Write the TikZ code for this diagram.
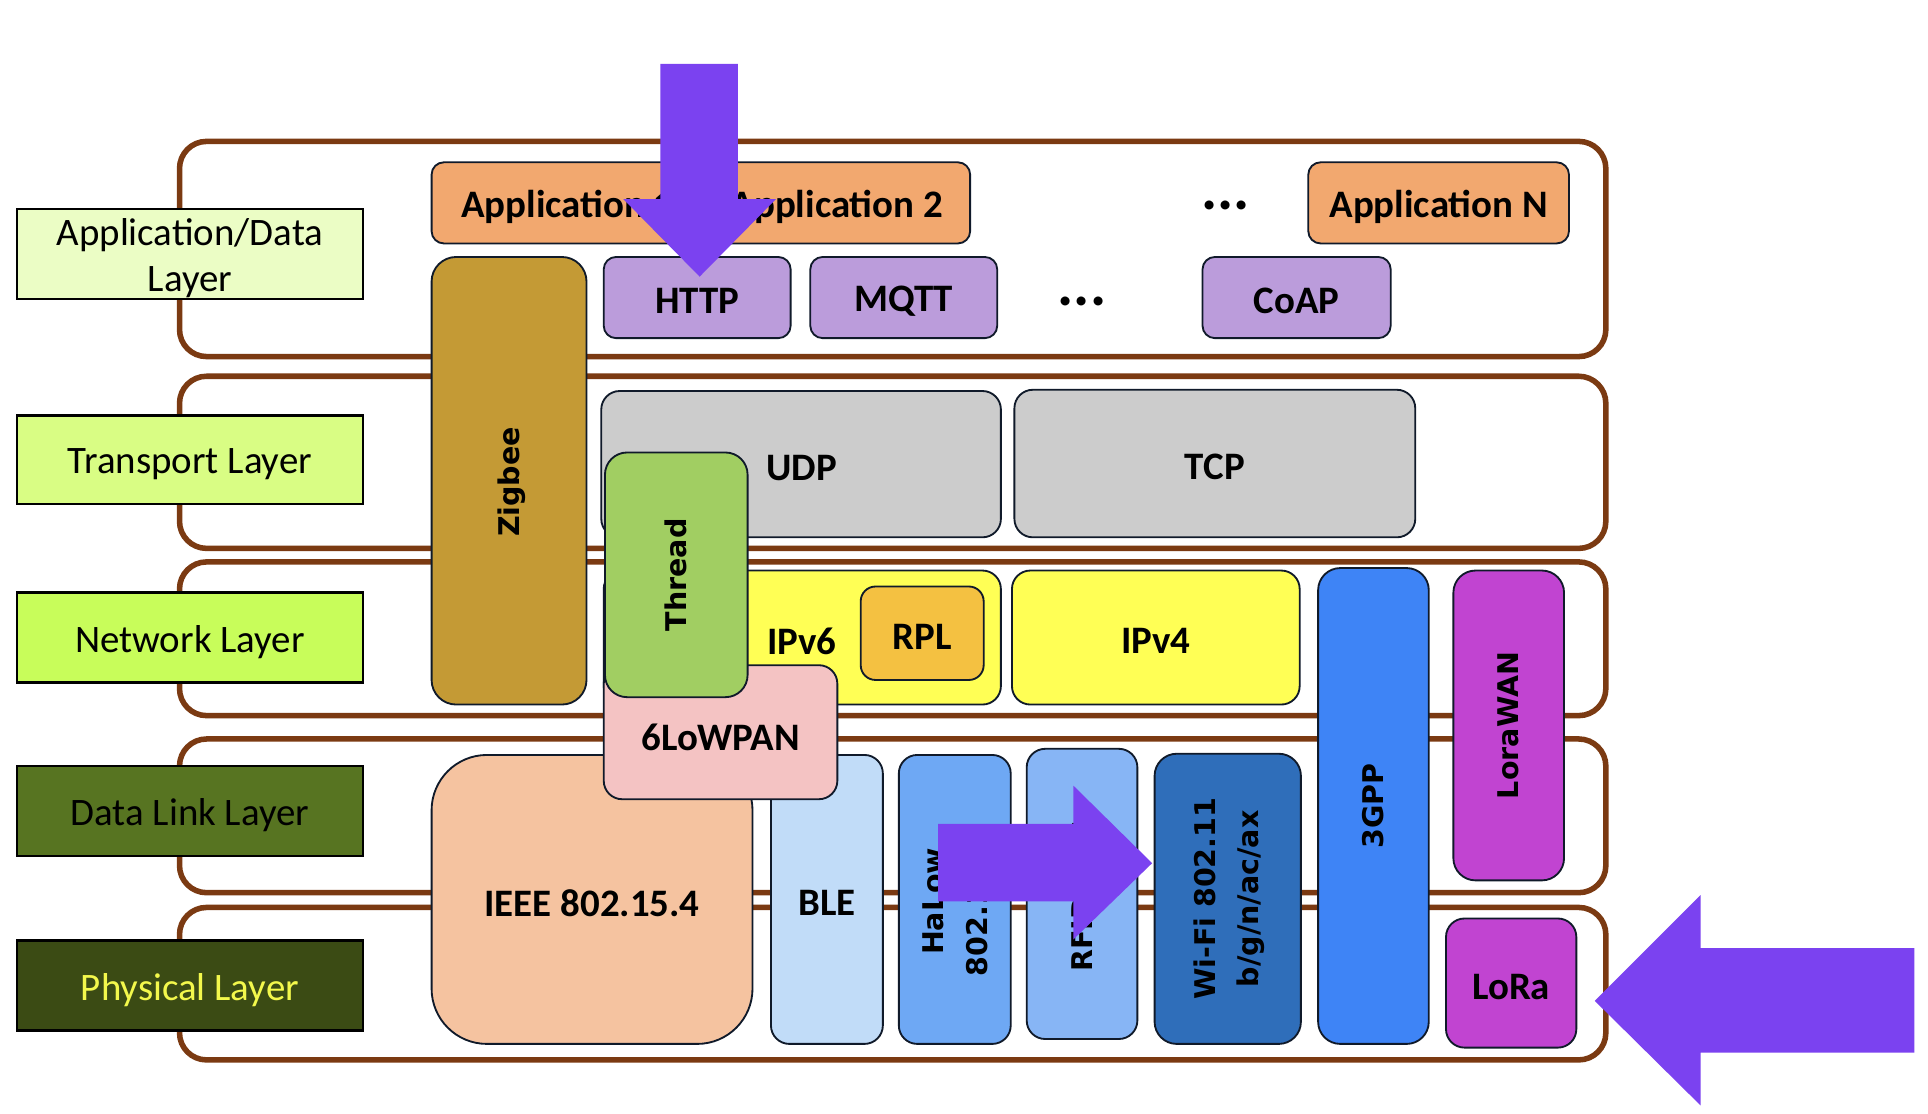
\documentclass[tikz,border=0pt]{standalone}
\usepackage{fontspec}
\setmainfont{Carlito}
\newfontfamily\vfont{DejaVu Sans}
\usetikzlibrary{fit}
\definecolor{brownc}{HTML}{7B3A12}
\definecolor{navyc}{HTML}{101A2A}
\definecolor{labA}{HTML}{EBFDC5}
\definecolor{labT}{HTML}{D9FD84}
\definecolor{labN}{HTML}{C8FD5A}
\definecolor{labD}{HTML}{577421}
\definecolor{labP}{HTML}{3B4B14}
\definecolor{physY}{HTML}{F3F84C}
\definecolor{appc}{HTML}{F2A86F}
\definecolor{protoc}{HTML}{BB9CDB}
\definecolor{zigc}{HTML}{C49A35}
\definecolor{grayc}{HTML}{CCCCCC}
\definecolor{threadc}{HTML}{A1CE62}
\definecolor{yelc}{HTML}{FFFF55}
\definecolor{rplc}{HTML}{F4C141}
\definecolor{lowc}{HTML}{F4C3C3}
\definecolor{ieeec}{HTML}{F5C3A0}
\definecolor{blec}{HTML}{C1DCF8}
\definecolor{halowc}{HTML}{6EA8F4}
\definecolor{rfidc}{HTML}{87B5F5}
\definecolor{wific}{HTML}{2F6EBA}
\definecolor{gppc}{HTML}{3E84F6}
\definecolor{lorac}{HTML}{C144D1}
\definecolor{arrowc}{HTML}{7B42F0}
\newcommand{\bx}[6][]{\node[box,#1,fit={(#3,#4)(#5,#6)}] (#2) {};}
\begin{document}
\begin{tikzpicture}[x=0.1mm,y=-0.1mm,
  box/.style={draw=navyc, line width=0.15mm, rounded corners=1.2mm, inner sep=0pt, outer sep=0pt},
  layerbox/.style={draw=brownc, line width=0.45mm, rounded corners=2.2mm, fill=white},
  lab/.style={sharp corners, draw=black, line width=0.2mm},
  ltxt/.style={font=\fontsize{9}{10.8}\selectfont, align=center, inner sep=0pt, yshift=-0.35mm},
  btxt/.style={font=\fontsize{9}{10.8}\selectfont\bfseries, align=center, inner sep=0pt, yshift=-0.3mm},
  vtxt/.style={font=\vfont\bfseries\fontsize{6.6}{10}\selectfont, align=center, rotate=90, inner sep=0pt},
  dotstxt/.style={font=\fontsize{14}{14}\selectfont\bfseries, inner sep=0pt},
  blockarrow/.style={fill=arrowc}
]
\useasboundingbox (0,0) rectangle (1568,906);
\fill[white] (0,0) rectangle (1568,906);

% layer frames
\bx[layerbox]{L1}{146}{115}{1306}{290}
\bx[layerbox]{L2}{146}{306}{1306}{446}
\bx[layerbox]{L3}{146}{457}{1306}{582}
\bx[layerbox]{L4}{146}{601}{1306}{726}
\bx[layerbox]{L5}{146}{738}{1306}{862}

% layer labels
\bx[lab, fill=labA]{tA}{14}{170}{295}{243}
\node[ltxt] (tAt) at (tA) {Application/Data\\Layer};
\bx[lab, fill=labT]{tT}{14}{338}{295}{410}
\node[ltxt] (tTt) at (tT) {Transport Layer};
\bx[lab, fill=labN]{tN}{14}{482}{295}{555}
\node[ltxt] (tNt) at (tN) {Network Layer};
\bx[lab, fill=labD]{tD}{14}{623}{295}{696}
\node[ltxt] (tDt) at (tD) {Data Link Layer};
\bx[lab, fill=labP]{tP}{14}{765}{295}{838}
\node[ltxt, text=physY] (tPt) at (tP) {Physical Layer};

% application row
\bx[fill=appc, rounded corners=1mm]{app1}{351}{132}{572}{198}
\node[btxt] (app1t) at (app1) {Application 1};
\bx[fill=appc, rounded corners=1mm]{app2}{572}{132}{789}{198}
\node[btxt] (app2t) at (app2) {Application 2};
\node[dotstxt] (dots1) at (997,167) {...};
\bx[fill=appc, rounded corners=1mm]{appN}{1064}{132}{1276}{198}
\node[btxt] (appNt) at (appN) {Application N};

% protocol row
\bx[fill=protoc, rounded corners=1mm]{http}{491}{209}{643}{275}
\node[btxt] (httpt) at (http) {HTTP};
\bx[fill=protoc, rounded corners=1mm]{mqtt}{659}{209}{811}{275}
\node[btxt] (mqttt) at (mqtt) {MQTT};
\node[dotstxt] (dots2) at (880,245) {...};
\bx[fill=protoc, rounded corners=1mm]{coap}{978}{209}{1131}{275}
\node[btxt] (coapt) at (coap) {CoAP};

% zigbee
\bx[fill=zigc, rounded corners=2mm]{zig}{351}{209}{477}{573}
\node[vtxt] (zigt) at (416,392) {Zigbee};

% transport
\bx[fill=grayc, rounded corners=1.5mm]{udp}{489}{318}{814}{437}
\node[btxt] (udpt) at (652,378) {UDP};
\bx[fill=grayc, rounded corners=1.5mm]{tcp}{825}{317}{1151}{437}
\node[btxt] (tcpt) at (tcp) {TCP};

% network
\bx[fill=yelc, rounded corners=1.5mm]{ipv6}{491}{464}{814}{573}
\node[btxt] (ipv6t) at (652,519) {IPv6};
\bx[fill=rplc, rounded corners=1.2mm]{rpl}{700}{477}{800}{553}
\node[btxt] (rplt) at (rpl) {RPL};
\bx[fill=yelc, rounded corners=1.5mm]{ipv4}{823}{464}{1057}{573}
\node[btxt] (ipv4t) at (ipv4) {IPv4};

% link / physical
\bx[fill=ieeec, rounded corners=4.5mm]{ieee}{351}{614}{612}{849}
\node[btxt] (ieeet) at (ieee) {IEEE 802.15.4};
\bx[fill=blec, rounded corners=1.5mm]{ble}{627}{614}{718}{849}
\node[btxt] (blet) at (ble) {BLE};
\bx[fill=halowc, rounded corners=1.5mm]{halow}{731}{614}{822}{849}
\node[vtxt] (halowt) at (777,733) {HaLow\\802.11ah};
\bx[fill=rfidc, rounded corners=1.5mm]{rfid}{835}{609}{925}{845}
\node[vtxt] (rfidt) at (881,729) {RFID/NFC};
\bx[fill=wific, rounded corners=1.8mm]{wifi}{939}{613}{1058}{849}
\node[vtxt] (wifit) at (1000,731) {Wi-Fi 802.11\\b/g/n/ac/ax};

% 6LoWPAN and Thread
\bx[fill=lowc, rounded corners=1.5mm]{lowpan}{491}{541}{681}{650}
\node[btxt] (lowpant) at (586,597) {6LoWPAN};
\bx[fill=threadc, rounded corners=1.8mm]{thread}{492}{368}{608}{567}
\node[vtxt] (threadt) at (thread) {Thread};

% cellular / lora
\bx[fill=gppc, rounded corners=1.8mm]{gpp}{1072}{462}{1162}{849}
\node[vtxt] (gppt) at (gpp) {3GPP};
\bx[fill=lorac, rounded corners=1.8mm]{lorawan}{1182}{464}{1272}{716}
\node[vtxt] (lorawant) at (lorawan) {LoraWAN};
\bx[fill=lorac, rounded corners=1.5mm]{lora}{1176}{747}{1282}{852}
\node[btxt] (lorat) at (lora) {LoRa};

% block arrows
\coordinate (a1) at (569,225);
\coordinate (a2) at (937,702);
\coordinate (a3) at (1297,814);
\fill[blockarrow] (537,52) -- (600,52) -- (600,162) -- (631,162) -- (a1) -- (507,162) -- (537,162) -- cycle;
\fill[blockarrow] (763,670) -- (873,670) -- (873,639) -- (a2) -- (873,764) -- (873,733) -- (763,733) -- cycle;
\fill[blockarrow] (1557,771) -- (1383,771) -- (1383,728) -- (a3) -- (1383,899) -- (1383,856) -- (1557,856) -- cycle;
\end{tikzpicture}
\end{document}
